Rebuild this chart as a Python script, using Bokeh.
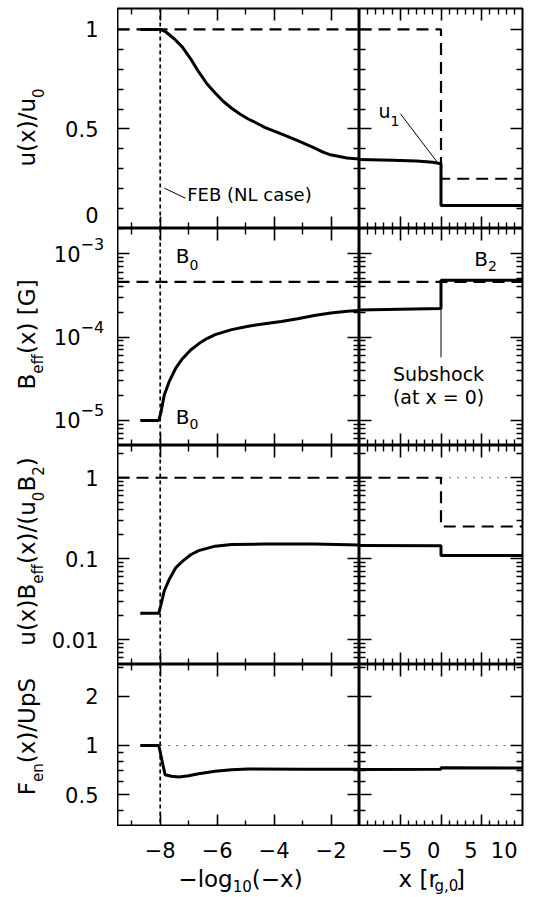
import math
from bokeh.plotting import figure
from bokeh.layouts import gridplot
from bokeh.models import LinearAxis, LogAxis, FixedTicker, Span, Range1d
from bokeh.core.properties import value
from bokeh.embed import file_html
from bokeh.resources import INLINE

# ---------------- data ----------------
# left column abscissa: -log10(-x);  right column abscissa: x [r_g,0]

# row 1 : u(x)/u0
u_left_x = [-8.7, -8.0, -7.80, -7.51, -7.22, -6.93, -6.64, -6.36, -6.07, -5.78, -5.49, -5.20,
            -4.91, -4.62, -4.33, -3.75, -3.17, -2.59, -2.30, -2.02, -1.44, -1.0]
u_left = [1.0, 1.0, 0.987, 0.953, 0.911, 0.852, 0.785, 0.727, 0.681, 0.638, 0.604, 0.575,
          0.550, 0.530, 0.508, 0.475, 0.441, 0.405, 0.385, 0.370, 0.354, 0.349]
u_right_x = [-10, -6, -3, -1, 0, 0, 10]
u_right = [0.347, 0.343, 0.339, 0.333, 0.325, 0.116, 0.116]
u_dash_left_x = [-9.5, -1.0]
u_dash_left = [1.0, 1.0]
u_dash_right_x = [-10, 0, 0, 10]
u_dash_right = [1.0, 1.0, 0.25, 0.25]

# row 2 : B_eff(x) [G]
B_left_x = [-8.7, -8.05, -7.97, -7.86, -7.69, -7.46, -7.22, -6.93, -6.65, -6.36, -6.07, -5.49,
            -4.91, -4.33, -3.75, -3.17, -2.59, -2.01, -1.43, -1.0]
B_left = [1.0e-5, 1.0e-5, 1.26e-5, 2.0e-5, 2.9e-5, 4.2e-5, 5.5e-5, 7.0e-5, 8.3e-5, 9.6e-5, 1.07e-4, 1.23e-4,
          1.35e-4, 1.45e-4, 1.54e-4, 1.66e-4, 1.82e-4, 1.95e-4, 2.04e-4, 2.09e-4]
B_right_x = [-10, -5, 0, 0, 10]
B_right = [2.12e-4, 2.16e-4, 2.2e-4, 4.8e-4, 4.8e-4]
B_dash_left_x = [-9.5, -1.0]
B_dash_left = [4.6e-4, 4.6e-4]
B_dash_right_x = [-10, 10]
B_dash_right = [4.6e-4, 4.6e-4]

# row 3 : u(x) B_eff(x) / (u0 B2)
ub_left_x = [-8.7, -8.05, -7.97, -7.86, -7.69, -7.46, -7.22, -6.93, -6.65, -6.07, -5.49, -4.33, -2.59, -1.0]
ub_left = [0.0213, 0.0213, 0.0274, 0.040, 0.055, 0.077, 0.093, 0.112, 0.126, 0.143, 0.150, 0.152, 0.152, 0.148]
ub_right_x = [-10, 0, 0, 10]
ub_right = [0.146, 0.145, 0.11, 0.11]
ub_dash_left_x = [-9.5, -1.0]
ub_dash_left = [1.0, 1.0]
ub_dash_right_x = [-10, 0, 0, 10]
ub_dash_right = [1.0, 1.0, 0.25, 0.25]
ub_dot_right_x = [0, 10]
ub_dot_right = [1.0, 1.0]

# row 4 : F_en(x)/UpS
F_left_x = [-8.7, -8.05, -7.83, -7.6, -7.34, -7.0, -6.65, -6.07, -5.49, -4.91, -3.0, -1.0]
F_left = [1.0, 1.0, 0.662, 0.648, 0.641, 0.652, 0.671, 0.694, 0.710, 0.717, 0.716, 0.715]
F_right_x = [-10, 0, 0, 10]
F_right = [0.712, 0.716, 0.73, 0.728]
F_dot_left_x = [-8.0, -1.0]
F_dot_left = [1.0, 1.0]
F_dot_right_x = [-10, 10]
F_dot_right = [1.0, 1.0]

FEB_x = -8.0

# ticks and tick labels
left_x_major = [-8, -6, -4, -2]
left_x_minor = [-9, -7, -5, -3]
left_x_labels = ["\u22128", "\u22126", "\u22124", "\u22122"]
right_x_major = [-5, 0, 5]
right_x_minor = [-9, -8, -7, -6, -4, -3, -2, -1, 1, 2, 3, 4, 6, 7, 8, 9]
right_x_label_pos = [-5, 0, 5, 10]
right_x_labels = ["\u22125", "0", "5", "10"]

y1_major = [0.0, 0.5, 1.0]
y1_minor = [0.1, 0.2, 0.3, 0.4, 0.6, 0.7, 0.8, 0.9]
y1_labels = ["0", "0.5", "1"]
y2_major = [1e-5, 1e-4, 1e-3]
y2_minor = [6e-6, 7e-6, 8e-6, 9e-6, 2e-5, 3e-5, 4e-5, 5e-5, 6e-5, 7e-5, 8e-5, 9e-5,
            2e-4, 3e-4, 4e-4, 5e-4, 6e-4, 7e-4, 8e-4, 9e-4, 2e-3]
y2_exponents = ["\u22125", "\u22124", "\u22123"]
y3_major = [0.01, 0.1, 1.0]
y3_minor = [0.006, 0.007, 0.008, 0.009, 0.02, 0.03, 0.04, 0.05, 0.06, 0.07, 0.08, 0.09,
            0.2, 0.3, 0.4, 0.5, 0.6, 0.7, 0.8, 0.9, 2.0]
y3_labels = ["0.01", "0.1", "1"]
y4_major = [0.5, 1.0, 2.0]
y4_minor = [0.4, 0.6, 0.7, 0.8, 0.9, 3.0]
y4_labels = ["0.5", "1", "2"]

# ---------------- styling helpers ----------------
FONT = "DejaVu Sans"
TICK_FS = 21
TITLE_FS = 23
SUB_FS = 15
W = {' ': 0.318, '(': 0.390, ')': 0.390, '[': 0.390, ']': 0.390, '/': 0.337, ',': 0.318, '.': 0.318,
     '=': 0.838, '\u2212': 0.838, '-': 0.361,
     'a': 0.613, 'b': 0.635, 'c': 0.550, 'e': 0.615, 'f': 0.352, 'g': 0.635, 'h': 0.634, 'k': 0.579,
     'l': 0.278, 'n': 0.634, 'o': 0.612, 'p': 0.635, 'r': 0.411, 's': 0.521, 't': 0.392, 'u': 0.634,
     'x': 0.592, 'B': 0.686, 'E': 0.632, 'F': 0.575, 'G': 0.775, 'L': 0.557, 'N': 0.748, 'S': 0.635,
     'U': 0.732}
for d in "0123456789":
    W[d] = 0.636


def tw(s, fs):
    return sum(W.get(c, 0.6) for c in s) * fs


def make_fig(xr, yr, ylog, w, h, bl=0, br=0, bt=0, bb=0, outline=True):
    p = figure(width=w, height=h, x_range=xr, y_range=yr,
               y_axis_type="log" if ylog else "linear",
               x_axis_location=None, y_axis_location=None, toolbar_location=None,
               tools="", output_backend="svg",
               min_border_left=bl, min_border_right=br, min_border_top=bt, min_border_bottom=bb)
    if outline:
        p.outline_line_color = "black"
        p.outline_line_width = 2
        p.outline_line_alpha = 1
    else:
        p.outline_line_color = None
    p.background_fill_color = "white"
    p.border_fill_color = "white"
    p.grid.visible = False
    return p


def add_axis(p, side, log, major, minor):
    cls = LogAxis if log else LinearAxis
    ax = cls(ticker=FixedTicker(ticks=major, minor_ticks=minor))
    ax.axis_line_color = None
    ax.major_tick_in = 12
    ax.major_tick_out = 0
    ax.minor_tick_in = 6
    ax.minor_tick_out = 0
    ax.major_tick_line_width = 1.6
    ax.minor_tick_line_width = 1.4
    ax.major_tick_line_color = "black"
    ax.minor_tick_line_color = "black"
    ax.major_label_overrides = {t: "" for t in major}
    ax.major_label_text_font_size = "0px"
    ax.major_label_standoff = 0
    p.add_layout(ax, side)


def txt(p, x, y, t, fs, align="left", angle=0.0):
    p.text(x=x if isinstance(x, list) else [x], y=y if isinstance(y, list) else [y],
           text=t if isinstance(t, list) else [t],
           text_font=value(FONT), text_font_size=value(f"{fs}px"), angle=angle,
           text_align=align, text_baseline="middle", text_color="black")


def pix_to_data(lo, hi, log, H, pix):
    if log:
        a, b = math.log10(lo), math.log10(hi)
        return 10 ** (a + pix / H * (b - a))
    return lo + pix / H * (hi - lo)


def data_to_pix(lo, hi, log, H, v):
    if log:
        a, b = math.log10(lo), math.log10(hi)
        return (math.log10(v) - a) / (b - a) * H
    return (v - lo) / (hi - lo) * H


def vtitle(p, pieces, lo, hi, log, H, center, xm=26, xs=37):
    total = sum(tw(t, SUB_FS if s else TITLE_FS) for t, s in pieces)
    pos = center - total / 2
    for t, s in pieces:
        fs = SUB_FS if s else TITLE_FS
        txt(p, xs if s else xm, pix_to_data(lo, hi, log, H, pos), t, fs, angle=math.pi / 2)
        pos += tw(t, fs)


def htitle(p, pieces, lo, hi, Wpx, center, ym, ys):
    total = sum(tw(t, SUB_FS if s else TITLE_FS) for t, s in pieces)
    pos = center - total / 2
    for t, s in pieces:
        fs = SUB_FS if s else TITLE_FS
        txt(p, lo + pos / Wpx * (hi - lo), ys if s else ym, t, fs)
        pos += tw(t, fs)


SOLID = dict(line_color="black", line_width=3)
DASH = dict(line_color="black", line_width=2.2, line_dash="12 7")
DOT = dict(line_color="#666666", line_width=1, line_dash="2 6")

TW = 117          # title / tick-label column (page px 0..117)
LFW = 242         # left frame (117..359)
RFW = 163         # right frame (359..522)
RPAD = 16         # right margin (522..538)
LX = Range1d(-9.5, -1.0)
RX = Range1d(-10, 10)

rows = [
    dict(yr=(0.0, 1.105), log=False, H=220, bt=8, major=y1_major, minor=y1_minor),
    dict(yr=(5.0e-6, 2.01e-3), log=True, H=217, bt=0, major=y2_major, minor=y2_minor),
    dict(yr=(4.95e-3, 2.5), log=True, H=219, bt=0, major=y3_major, minor=y3_minor),
    dict(yr=(0.3184, 3.14), log=True, H=162, bt=0, major=y4_major, minor=y4_minor),
]

grid_rows = []
for r in rows:
    yr = Range1d(*r["yr"])
    h = r["H"] + r["bt"]
    pt = make_fig(Range1d(0, TW), yr, r["log"], TW, h, bt=r["bt"], outline=False)
    pl = make_fig(LX, yr, r["log"], LFW, h, bt=r["bt"])
    pr = make_fig(RX, yr, r["log"], RFW + RPAD, h, br=RPAD, bt=r["bt"])
    for p, xmaj, xmin in ((pl, left_x_major, left_x_minor), (pr, right_x_major, right_x_minor)):
        add_axis(p, "left", r["log"], r["major"], r["minor"])
        add_axis(p, "right", r["log"], r["major"], r["minor"])
        add_axis(p, "above", False, xmaj, xmin)
        add_axis(p, "below", False, xmaj, xmin)
    pl.add_layout(Span(location=FEB_x, dimension="height", line_color="black", line_width=1.7,
                       line_dash="4 3"))
    r["figs"] = (pt, pl, pr)
    grid_rows.append([pt, pl, pr])


def shifted(r, v, px):
    lo, hi = r["yr"]
    return pix_to_data(lo, hi, r["log"], r["H"], data_to_pix(lo, hi, r["log"], r["H"], v) + px)


# ---- row 1
r = rows[0]
pt, pl, pr = r["figs"]
pl.line(u_dash_left_x, u_dash_left, **DASH)
pl.line(u_left_x, u_left, **SOLID)
pr.line(u_dash_right_x, u_dash_right, **DASH)
pr.line(u_right_x, u_right, **SOLID)
pl.segment(x0=[-7.86], y0=[0.203], x1=[-7.11], y1=[0.152], line_color="black", line_width=1)
txt(pl, -7.05, 0.169, "FEB (NL case)", 18)
pr.segment(x0=[-4.97], y0=[0.576], x1=[-0.37], y1=[0.328], line_color="black", line_width=1)
txt(pr, -7.68, 0.592, "u", 19)
txt(pr, -6.2, 0.542, "1", 14)
txt(pt, 98, shifted(r, y1_major[0], 14), y1_labels[0], TICK_FS, align="right")
txt(pt, [98, 98], y1_major[1:], y1_labels[1:], TICK_FS, align="right")
vtitle(pt, [("u(x)/u", False), ("0", True)], *r["yr"], r["log"], r["H"], 101)

# ---- row 2
r = rows[1]
pt, pl, pr = r["figs"]
pl.line(B_dash_left_x, B_dash_left, **DASH)
pl.line(B_left_x, B_left, **SOLID)
pr.line(B_dash_right_x, B_dash_right, **DASH)
pr.line(B_right_x, B_right, **SOLID)
txt(pl, -7.45, 9.5e-4, "B", 20)
txt(pl, -6.97, 7.4e-4, "0", 14)
txt(pl, -7.45, 1.1e-5, "B", 20)
txt(pl, -6.97, 9.06e-6, "0", 14)
txt(pr, 4.07, 8.75e-4, "B", 20)
txt(pr, 5.76, 7.2e-4, "2", 14)
pr.segment(x0=[0], y0=[2.2e-4], x1=[0], y1=[5.7e-5], line_color="black", line_width=1)
txt(pr, -5.9, 3.6e-5, "Subshock", 19)
txt(pr, -5.9, 1.9e-5, "(at x = 0)", 19)
txt(pt, [80] * 3, y2_major, ["10"] * 3, TICK_FS, align="right")
txt(pt, [80] * 3, [shifted(r, v, 10) for v in y2_major], y2_exponents, 16, align="left")
vtitle(pt, [("B", False), ("eff", True), ("(x) [G]", False)], *r["yr"], r["log"], r["H"], 111)

# ---- row 3
r = rows[2]
pt, pl, pr = r["figs"]
pl.line(ub_dash_left_x, ub_dash_left, **DASH)
pl.line(ub_left_x, ub_left, **SOLID)
pr.line(ub_dot_right_x, ub_dot_right, **DOT)
pr.line(ub_dash_right_x, ub_dash_right, **DASH)
pr.line(ub_right_x, ub_right, **SOLID)
txt(pt, [98] * 3, y3_major, y3_labels, TICK_FS, align="right")
vtitle(pt, [("u(x)B", False), ("eff", True), ("(x)/(u", False), ("0", True), ("B", False),
            ("2", True), (")", False)], *r["yr"], r["log"], r["H"], 113)

# ---- row 4
r = rows[3]
pt, pl, pr = r["figs"]
pl.line(F_dot_left_x, F_dot_left, **DOT)
pl.line(F_left_x, F_left, **SOLID)
pr.line(F_dot_right_x, F_dot_right, **DOT)
pr.line(F_right_x, F_right, **SOLID)
txt(pt, [98] * 3, y4_major, y4_labels, TICK_FS, align="right")
vtitle(pt, [("F", False), ("en", True), ("(x)/UpS", False)], *r["yr"], r["log"], r["H"], 90)

# ---- bottom strip: x tick labels and x titles
BH = 71
BY = Range1d(0, BH)
bl = make_fig(LX, BY, False, LFW, BH, outline=False)
BRX = Range1d(-10, -10 + 20 * (RFW + RPAD) / RFW)
br = make_fig(BRX, BY, False, RFW + RPAD, BH, outline=False)
txt(bl, left_x_major, [47.5] * 4, left_x_labels, TICK_FS, align="center")
txt(br, right_x_label_pos[:3], [47.5] * 3, right_x_labels[:3], TICK_FS, align="center")
txt(br, right_x_label_pos[3] - 0.5, 47.5, right_x_labels[3], TICK_FS, align="center")
htitle(bl, [("\u2212log", False), ("10", True), ("(\u2212x)", False)], -9.5, -1.0, LFW, 123, 19, 12)
htitle(br, [("x [r", False), ("g,0", True), ("]", False)], -10, 10, RFW, 79, 19, 12)
grid_rows.append([None, bl, br])

grid = gridplot(grid_rows, toolbar_location=None)
open("out.html", "w").write(file_html(grid, INLINE))
